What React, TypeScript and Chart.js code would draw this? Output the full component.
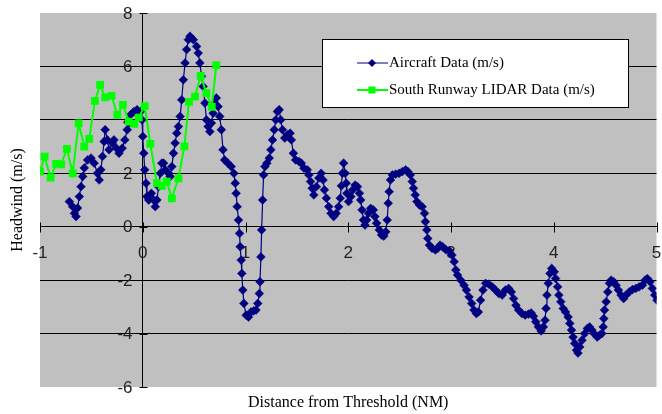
import React, { useEffect, useRef } from "react";
import { Chart, registerables } from "chart.js";

Chart.register(...registerables);

// Axis ranges and labels
const xRange = [-1, 5];
const yRange = [-6, 8];
const xStep = 1;
const yStep = 2;
const xTitle = "Distance from Threshold (NM)";
const yTitle = "Headwind (m/s)";
const seriesNames = ["Aircraft Data (m/s)", "South Runway LIDAR Data (m/s)"];

// Aircraft data (distance NM, headwind m/s)
const aircraftX = [
  -0.714, -0.682, -0.665, -0.649, -0.634, -0.617, -0.601, -0.585, -0.569, -0.537,
  -0.504, -0.473, -0.441, -0.424, -0.408, -0.392, -0.376, -0.366, -0.344, -0.328,
  -0.296, -0.280, -0.257, -0.231, -0.200, -0.174, -0.151, -0.135, -0.119, -0.087,
  -0.055, -0.022, -0.007, 0.000, 0.010, 0.019, 0.032, 0.041, 0.058, 0.084,
  0.106, 0.122, 0.138, 0.154, 0.171, 0.186, 0.203, 0.219, 0.251, 0.267,
  0.283, 0.299, 0.315, 0.331, 0.347, 0.364, 0.379, 0.395, 0.412, 0.427,
  0.444, 0.460, 0.492, 0.524, 0.540, 0.556, 0.572, 0.588, 0.605, 0.620,
  0.636, 0.653, 0.668, 0.685, 0.701, 0.716, 0.733, 0.749, 0.765, 0.781,
  0.797, 0.829, 0.861, 0.887, 0.900, 0.909, 0.919, 0.932, 0.942, 0.948,
  0.958, 0.964, 0.974, 0.984, 1.006, 1.029, 1.054, 1.080, 1.102, 1.119,
  1.135, 1.141, 1.150, 1.157, 1.167, 1.176, 1.189, 1.208, 1.231, 1.247,
  1.263, 1.280, 1.295, 1.311, 1.328, 1.343, 1.360, 1.382, 1.408, 1.434,
  1.446, 1.466, 1.488, 1.521, 1.543, 1.569, 1.601, 1.617, 1.633, 1.649,
  1.665, 1.690, 1.714, 1.736, 1.755, 1.768, 1.787, 1.810, 1.832, 1.858,
  1.883, 1.906, 1.922, 1.933, 1.943, 1.955, 1.970, 1.980, 1.986, 2.003,
  2.025, 2.044, 2.067, 2.090, 2.109, 2.121, 2.134, 2.148, 2.163, 2.179,
  2.196, 2.218, 2.244, 2.259, 2.276, 2.302, 2.324, 2.346, 2.365, 2.379,
  2.389, 2.398, 2.411, 2.430, 2.462, 2.495, 2.526, 2.558, 2.581, 2.604,
  2.623, 2.635, 2.652, 2.668, 2.693, 2.719, 2.742, 2.751, 2.765, 2.774,
  2.790, 2.816, 2.848, 2.871, 2.893, 2.919, 2.951, 2.983, 3.009, 3.031,
  3.047, 3.064, 3.095, 3.127, 3.150, 3.176, 3.201, 3.224, 3.247, 3.266,
  3.288, 3.311, 3.337, 3.368, 3.401, 3.433, 3.465, 3.498, 3.529, 3.561,
  3.587, 3.609, 3.632, 3.658, 3.690, 3.722, 3.754, 3.780, 3.802, 3.825,
  3.851, 3.877, 3.899, 3.915, 3.925, 3.934, 3.947, 3.963, 3.980, 4.005,
  4.018, 4.038, 4.050, 4.069, 4.092, 4.115, 4.140, 4.156, 4.173, 4.188,
  4.204, 4.221, 4.236, 4.253, 4.275, 4.301, 4.327, 4.349, 4.371, 4.397,
  4.423, 4.446, 4.468, 4.481, 4.487, 4.494, 4.510, 4.526, 4.542, 4.558,
  4.583, 4.607, 4.629, 4.655, 4.680, 4.703, 4.735, 4.767, 4.799, 4.831,
  4.863, 4.889, 4.911, 4.937, 4.960, 4.983, 5.005,
];
const aircraftY = [
  0.94, 0.75, 0.50, 0.38, 0.70, 1.13, 1.50, 1.88, 2.20, 2.50,
  2.57, 2.38, 2.00, 1.75, 2.13, 2.63, 3.19, 3.63, 3.25, 2.88,
  3.13, 3.25, 2.94, 2.75, 2.94, 3.25, 3.63, 3.88, 4.19, 4.31,
  4.38, 4.31, 4.00, 3.38, 2.75, 2.13, 1.63, 1.13, 1.00, 1.25,
  1.00, 0.75, 1.00, 1.50, 2.00, 2.38, 2.38, 2.13, 2.00, 1.88,
  2.25, 2.75, 3.13, 3.50, 3.75, 4.13, 4.75, 5.50, 6.13, 6.63,
  7.00, 7.13, 7.00, 6.75, 6.50, 6.13, 5.63, 5.25, 4.63, 4.00,
  3.75, 3.56, 3.88, 4.25, 4.63, 4.82, 4.50, 4.13, 3.63, 2.88,
  2.50, 2.38, 2.25, 2.00, 1.63, 1.25, 0.75, 0.25, -0.25, -0.75,
  -1.25, -1.75, -2.37, -2.87, -3.31, -3.38, -3.19, -3.15, -3.12, -2.87,
  -2.50, -2.06, -1.13, -0.12, 1.00, 1.94, 2.25, 2.38, 2.57, 2.88,
  3.25, 3.63, 4.00, 4.31, 4.38, 4.00, 3.63, 3.32, 3.44, 3.50,
  3.25, 2.75, 2.50, 2.44, 2.38, 2.19, 2.13, 1.94, 1.69, 1.44,
  1.19, 1.50, 1.82, 2.00, 1.75, 1.38, 1.07, 0.75, 0.50, 0.38,
  0.50, 0.75, 1.07, 1.53, 2.00, 2.38, 2.00, 1.63, 1.25, 0.94,
  1.13, 1.38, 1.56, 1.50, 1.25, 1.00, 0.63, 0.25, 0.06, 0.25,
  0.50, 0.69, 0.63, 0.38, 0.13, -0.12, -0.31, -0.35, -0.19, 0.25,
  0.88, 1.31, 1.75, 1.94, 1.97, 2.00, 2.06, 2.13, 2.06, 1.94,
  1.69, 1.44, 1.19, 0.94, 0.81, 0.75, 0.50, 0.19, -0.12, -0.44,
  -0.69, -0.81, -0.87, -0.81, -0.69, -0.75, -0.87, -0.90, -1.06, -1.31,
  -1.62, -1.81, -2.00, -2.19, -2.37, -2.63, -2.87, -3.12, -3.25, -3.19,
  -2.75, -2.37, -2.12, -2.15, -2.25, -2.37, -2.50, -2.56, -2.37, -2.31,
  -2.44, -2.69, -2.94, -3.12, -3.25, -3.31, -3.27, -3.23, -3.35, -3.56,
  -3.75, -3.90, -3.75, -3.50, -3.06, -2.56, -2.12, -1.75, -1.56, -1.69,
  -1.94, -2.25, -2.56, -2.81, -3.06, -3.19, -3.38, -3.62, -3.87, -4.13,
  -4.37, -4.62, -4.73, -4.50, -4.25, -4.00, -3.81, -3.75, -3.87, -4.02,
  -4.13, -4.06, -4.00, -3.75, -3.44, -3.12, -2.81, -2.44, -2.12, -2.00,
  -2.06, -2.19, -2.37, -2.56, -2.69, -2.56, -2.44, -2.35, -2.31, -2.25,
  -2.19, -2.00, -1.94, -2.06, -2.31, -2.56, -2.75,
];

// South Runway LIDAR data
const lidarX = [
  -1.0, -0.955, -0.897, -0.842, -0.794, -0.738, -0.682, -0.624, -0.569, -0.521,
  -0.466, -0.415, -0.366, -0.304, -0.248, -0.193, -0.135, -0.082, -0.039, 0.019,
  0.074, 0.138, 0.186, 0.234, 0.283, 0.347, 0.405, 0.450, 0.508, 0.564,
  0.620, 0.672, 0.716,
];
const lidarY = [
  2.06, 2.62, 1.84, 2.35, 2.33, 2.91, 2.00, 3.87, 3.00, 3.29,
  4.71, 5.31, 4.84, 4.90, 4.19, 4.56, 3.93, 3.85, 4.08, 4.51,
  3.10, 1.63, 1.53, 1.69, 1.06, 1.81, 3.01, 4.67, 4.87, 5.65,
  5.00, 4.49, 6.04,
];

const navy = "#000080";
const lime = "#00FF00";
const plotGray = "#C0C0C0";
const serif = "'Liberation Serif', 'Times New Roman', serif";
const sans = "'Liberation Sans', Arial, sans-serif";

function toPoints(xs: number[], ys: number[]) {
  const n = Math.min(xs.length, ys.length);
  const pts: { x: number; y: number }[] = [];
  for (let i = 0; i < n; i++) pts.push({ x: xs[i], y: ys[i] });
  return pts;
}

const decorPlugin = {
  id: "decor",
  beforeDraw(chart: any) {
    const { ctx, chartArea: a } = chart;
    ctx.save();
    ctx.fillStyle = "#FFFFFF";
    ctx.fillRect(0, 0, chart.width, chart.height);
    ctx.fillStyle = plotGray;
    ctx.fillRect(a.left, a.top, a.right - a.left, a.bottom - a.top);
    ctx.restore();
  },
  beforeDatasetsDraw(chart: any) {
    // crossing tick marks and tick labels on both axes (under the data)
    const { ctx, scales } = chart;
    const xs = scales.x, ys = scales.y;
    const ax = Math.round(xs.getPixelForValue(0)) + 0.5;
    const ay = Math.round(ys.getPixelForValue(0)) + 0.5;
    ctx.save();
    ctx.strokeStyle = "#000";
    ctx.lineWidth = 1;
    ctx.beginPath();
    xs.ticks.forEach((t: any) => {
      const px = Math.round(xs.getPixelForValue(t.value)) + 0.5;
      ctx.moveTo(px, ay - 5);
      ctx.lineTo(px, ay + 5);
    });
    ys.ticks.forEach((t: any) => {
      const py = Math.round(ys.getPixelForValue(t.value)) + 0.5;
      ctx.moveTo(ax - 4, py);
      ctx.lineTo(ax + 4, py);
    });
    ctx.stroke();

    ctx.fillStyle = "#222";
    ctx.font = `17px ${sans}`;
    ctx.textBaseline = "middle";
    ctx.textAlign = "center";
    xs.ticks.forEach((t: any) => {
      ctx.fillText(String(t.value), xs.getPixelForValue(t.value), ay + 26);
    });
    ctx.textAlign = "right";
    ys.ticks.forEach((t: any) => {
      ctx.fillText(String(t.value), ax - 11, ys.getPixelForValue(t.value) + 1);
    });
    ctx.restore();
  },
  afterDraw(chart: any) {
    const { ctx, chartArea: a } = chart;
    ctx.save();
    // axis titles
    ctx.fillStyle = "#000";
    ctx.font = `16px ${serif}`;
    ctx.textAlign = "center";
    ctx.textBaseline = "middle";
    ctx.fillText(xTitle, (a.left + a.right) / 2, 403);
    ctx.save();
    ctx.translate(18, (a.top + a.bottom) / 2);
    ctx.rotate(-Math.PI / 2);
    ctx.fillText(yTitle, 0, 0);
    ctx.restore();

    // legend
    const bx = 322, by = 39, bw = 306, bh = 68;
    ctx.fillStyle = "#FFFFFF";
    ctx.fillRect(bx, by, bw, bh);
    ctx.strokeStyle = "#000";
    ctx.lineWidth = 1;
    ctx.strokeRect(bx + 0.5, by + 0.5, bw, bh);

    const rows = [
      { y: 63, color: navy, lw: 1, style: "diamond" },
      { y: 90, color: lime, lw: 2, style: "square" },
    ];
    rows.forEach((r, i) => {
      ctx.strokeStyle = r.color;
      ctx.lineWidth = r.lw;
      ctx.beginPath();
      ctx.moveTo(357, r.y);
      ctx.lineTo(388, r.y);
      ctx.stroke();
      ctx.fillStyle = r.color;
      ctx.beginPath();
      if (r.style === "diamond") {
        ctx.moveTo(372, r.y - 4);
        ctx.lineTo(376, r.y);
        ctx.lineTo(372, r.y + 4);
        ctx.lineTo(368, r.y);
        ctx.closePath();
        ctx.fill();
      } else {
        ctx.fillRect(368.5, r.y - 3.5, 7, 7);
      }
      ctx.fillStyle = "#000";
      ctx.font = `15px ${serif}`;
      ctx.textAlign = "left";
      ctx.textBaseline = "middle";
      ctx.fillText(seriesNames[i], 389, r.y);
    });
    ctx.restore();
  },
};

export default function App() {
  const ref = useRef<HTMLCanvasElement | null>(null);

  useEffect(() => {
    document.body.style.margin = "0";
    const canvas = ref.current;
    if (!canvas) return;
    const chart = new Chart(canvas, {
      type: "line",
      data: {
        datasets: [
          {
            label: seriesNames[0],
            data: toPoints(aircraftX, aircraftY),
            borderColor: navy,
            backgroundColor: navy,
            borderWidth: 1.2,
            pointStyle: "rectRot",
            pointRadius: 4.4,
            pointBorderWidth: 0.5,
            pointBackgroundColor: navy,
            pointBorderColor: navy,
            order: 2,
          },
          {
            label: seriesNames[1],
            data: toPoints(lidarX, lidarY),
            borderColor: lime,
            backgroundColor: lime,
            borderWidth: 2,
            pointStyle: "rect",
            pointRadius: 5.5,
            pointBorderWidth: 0,
            pointBackgroundColor: lime,
            order: 1,
          },
        ],
      },
      plugins: [decorPlugin],
      options: {
        responsive: false,
        animation: false,
        devicePixelRatio: 1,
        parsing: { xAxisKey: "x", yAxisKey: "y" } as any,
        layout: { padding: { left: 40, right: 0, top: 13, bottom: 27 } },
        plugins: {
          legend: { display: false },
          tooltip: { enabled: false },
          title: { display: false },
        },
        scales: {
          x: {
            type: "linear",
            position: { y: 0 } as any,
            min: xRange[0],
            max: xRange[1],
            afterFit: (s: any) => {
              s.paddingLeft = 0;
              s.paddingRight = 0;
            },
            ticks: {
              stepSize: xStep,
              display: false,
            },
            grid: {
              drawOnChartArea: false,
              drawTicks: false,
            },
            border: { display: true, color: "#000", width: 1 },
            title: { display: false },
          },
          y: {
            type: "linear",
            position: { x: 0 } as any,
            min: yRange[0],
            max: yRange[1],
            afterFit: (s: any) => {
              s.paddingTop = 0;
              s.paddingBottom = 0;
            },
            ticks: {
              stepSize: yStep,
              display: false,
            },
            grid: {
              drawOnChartArea: true,
              color: (c: any) =>
                c.tick && (c.tick.value === yRange[0] || c.tick.value === yRange[1])
                  ? "rgba(0,0,0,0)"
                  : "#000",
              lineWidth: 1,
              drawTicks: false,
            },
            border: { display: true, color: "#000", width: 1 },
            title: { display: false },
          },
        },
      },
    });
    return () => chart.destroy();
  }, []);

  return (
    <div style={{ width: 662, height: 414, position: "relative" }}>
      <canvas ref={ref} width={662} height={414} style={{ display: "block" }} />
    </div>
  );
}
